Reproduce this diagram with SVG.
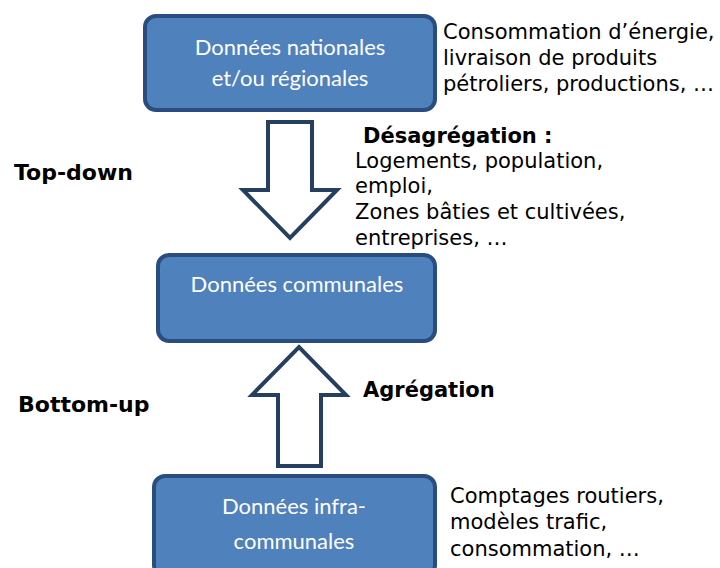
<svg xmlns="http://www.w3.org/2000/svg" width="720" height="568" viewBox="0 0 720 568">
<style>
.box{fill:#4f81bd;stroke:#2a4d7f;stroke-width:4}
.bt{font-family:Lato,"Open Sans",sans-serif;font-size:22px;fill:#ffffff;text-anchor:middle}
.note{font-family:"DejaVu Sans",Verdana,sans-serif;font-size:21px;fill:#000}
.lbl{font-family:"DejaVu Sans",Verdana,sans-serif;font-size:21px;font-weight:bold;fill:#000}
.side{font-family:"DejaVu Sans",Verdana,sans-serif;font-size:22px;font-weight:bold;fill:#000}
.arr{fill:#ffffff;stroke:#243f60;stroke-width:4;stroke-linejoin:miter}
</style>
<rect width="720" height="568" fill="#ffffff"/>
<g id="connectors">
<path class="arr" d="M268,122 H312 V190 H337 L290,238 L243,190 H268 Z"/>
<path class="arr" d="M278,466 V395 H252 L299,347 L346,395 H321 V466 Z"/>
</g>
<g id="node-nationales">
<rect class="box" x="145" y="16" width="290" height="94" rx="11"/>
<text class="bt" x="290" y="55">Données nationales</text>
<text class="bt" x="290" y="86">et/ou régionales</text>
</g>
<g id="node-communales">
<rect class="box" x="158" y="255" width="277" height="86" rx="11"/>
<text class="bt" x="297" y="292">Données communales</text>
</g>
<g id="node-infra">
<rect class="box" x="154" y="476" width="281" height="100" rx="11"/>
<text class="bt" x="294" y="514">Données infra-</text>
<text class="bt" x="294" y="549">communales</text>
</g>
<g id="note-top">
<text class="note" x="443" y="39">Consommation d’énergie,</text>
<text class="note" x="443" y="65">livraison de produits</text>
<text class="note" x="443" y="91">pétroliers, productions, …</text>
</g>
<g id="note-desag">
<text class="lbl" x="363" y="143">Désagrégation :</text>
<text class="note" x="355" y="168">Logements, population,</text>
<text class="note" x="355" y="193">emploi,</text>
<text class="note" x="355" y="219">Zones bâties et cultivées,</text>
<text class="note" x="355" y="245">entreprises, …</text>
</g>
<g id="note-agreg">
<text class="lbl" x="363" y="397">Agrégation</text>
</g>
<g id="note-bottom">
<text class="note" x="450" y="503">Comptages routiers,</text>
<text class="note" x="450" y="529">modèles trafic,</text>
<text class="note" x="450" y="556">consommation, …</text>
</g>
<text class="side" x="14" y="180">Top-down</text>
<text class="side" x="18" y="412">Bottom-up</text>
</svg>
